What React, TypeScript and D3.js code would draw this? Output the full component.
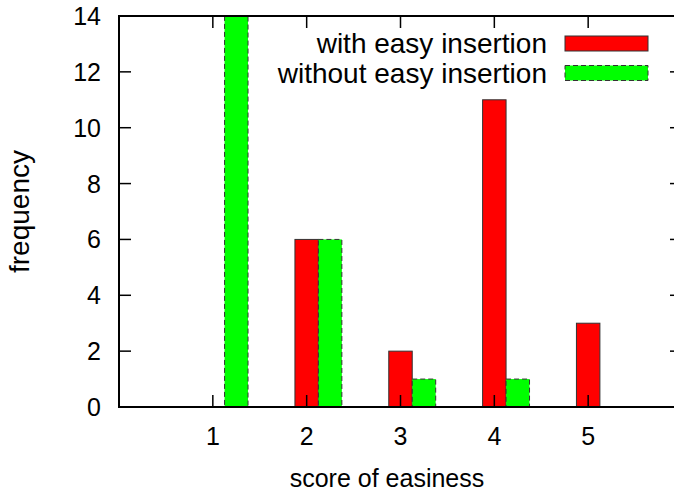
import * as d3 from 'd3';
import { useEffect, useRef } from 'react';

const scores = [1, 2, 3, 4, 5];
const withEasy = [0, 6, 2, 11, 3];
const withoutEasy = [14, 6, 1, 1, 0];
const yTicks = [0, 2, 4, 6, 8, 10, 12, 14];
const seriesNames = ['with easy insertion', 'without easy insertion'];

const App = () => {
    const svgRef = useRef<SVGSVGElement>(null);

    useEffect(() => {
        const width = 674;
        const height = 493;
        const left = 119;
        const right = 682; // gnuplot frame runs off the right edge
        const top = 16;
        const bottom = 407;
        const font = "'Liberation Sans', Arial, Helvetica, sans-serif";

        const svg = d3.select(svgRef.current);
        svg.selectAll('*').remove();
        svg.attr('width', width).attr('height', height);

        const x = d3.scaleLinear().domain([0, 6]).range([left, right]);
        const y = d3.scaleLinear().domain([0, 14]).range([bottom, top]);
        const barW = x(0.25) - x(0);

        // bars: red centred on the score, green just to its right
        const bars = svg.append('g');
        scores.forEach((s, i) => {
            if (withEasy[i] > 0) {
                bars.append('rect')
                    .attr('x', x(s - 0.125))
                    .attr('y', y(withEasy[i]))
                    .attr('width', barW)
                    .attr('height', y(0) - y(withEasy[i]))
                    .attr('fill', '#ff0000')
                    .attr('stroke', '#333')
                    .attr('stroke-width', 1);
            }
            if (withoutEasy[i] > 0) {
                bars.append('rect')
                    .attr('x', x(s + 0.125))
                    .attr('y', y(withoutEasy[i]))
                    .attr('width', barW)
                    .attr('height', y(0) - y(withoutEasy[i]))
                    .attr('fill', '#00ff00')
                    .attr('stroke', '#333')
                    .attr('stroke-width', 1)
                    .attr('stroke-dasharray', '5,3');
            }
        });

        // ticks (inward, mirrored)
        const tickLen = 12;
        const ticks = svg.append('g').attr('stroke', '#000').attr('stroke-width', 1.5);
        yTicks.forEach((t) => {
            ticks.append('line').attr('x1', left).attr('x2', left + tickLen).attr('y1', y(t)).attr('y2', y(t));
            ticks.append('line').attr('x1', right).attr('x2', right - tickLen).attr('y1', y(t)).attr('y2', y(t));
        });
        scores.forEach((s) => {
            ticks.append('line').attr('x1', x(s)).attr('x2', x(s)).attr('y1', bottom).attr('y2', bottom - tickLen);
            ticks.append('line').attr('x1', x(s)).attr('x2', x(s)).attr('y1', top).attr('y2', top + tickLen);
        });

        // frame
        svg.append('rect')
            .attr('x', left)
            .attr('y', top)
            .attr('width', right - left)
            .attr('height', bottom - top)
            .attr('fill', 'none')
            .attr('stroke', '#000')
            .attr('stroke-width', 2);

        // tick labels
        const labels = svg.append('g').style('font-family', font).style('font-size', '25px').attr('fill', '#000');
        yTicks.forEach((t) => {
            labels.append('text')
                .attr('x', 101)
                .attr('y', y(t))
                .attr('dy', '0.36em')
                .attr('text-anchor', 'end')
                .text(t);
        });
        scores.forEach((s) => {
            labels.append('text')
                .attr('x', x(s))
                .attr('y', 445)
                .attr('text-anchor', 'middle')
                .text(s);
        });

        // axis titles
        labels.append('text')
            .attr('x', 387)
            .attr('y', 487)
            .attr('text-anchor', 'middle')
            .text('score of easiness');
        labels.append('text')
            .attr('transform', `translate(29, ${(top + bottom) / 2}) rotate(-90)`)
            .attr('text-anchor', 'middle')
            .style('font-size', '28px')
            .text('frequency');

        // legend
        const legend = svg.append('g').style('font-family', font).style('font-size', '28px');
        const colors = ['#ff0000', '#00ff00'];
        seriesNames.forEach((name, i) => {
            const cy = 43.5 + i * 29.5;
            legend.append('text')
                .attr('x', 547)
                .attr('y', cy)
                .attr('dy', '0.35em')
                .attr('text-anchor', 'end')
                .text(name);
            legend.append('rect')
                .attr('x', 565)
                .attr('y', cy - 7.5)
                .attr('width', 83)
                .attr('height', 15)
                .attr('fill', colors[i])
                .attr('stroke', '#333')
                .attr('stroke-width', 1)
                .attr('stroke-dasharray', i === 1 ? '5,3' : null);
        });
    }, []);

    return <svg ref={svgRef} style={{ position: 'absolute', left: 0, top: 0 }} />;
};

export default App;
